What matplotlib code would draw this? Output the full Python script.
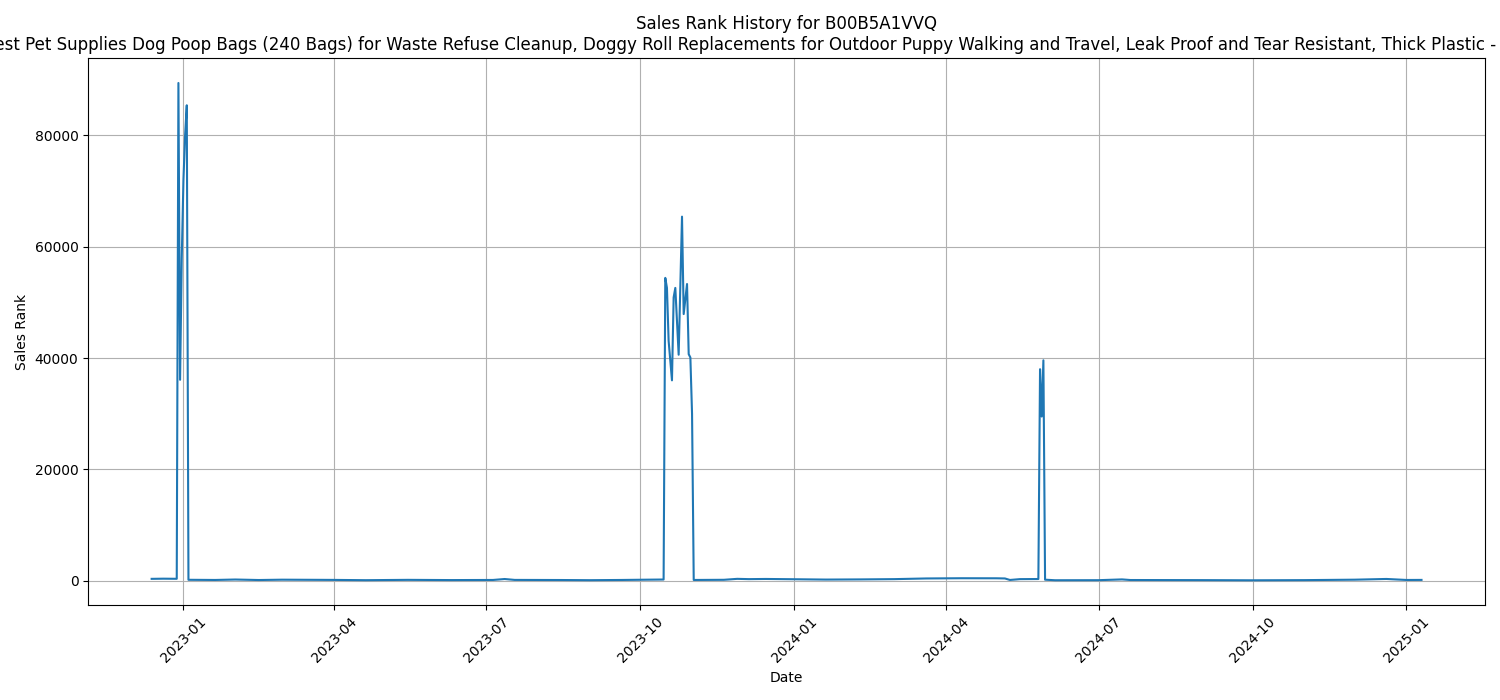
import pandas as pd
import matplotlib
matplotlib.use("Agg")
import matplotlib.pyplot as plt

asin = "B00B5A1VVQ"
product_title = ("Best Pet Supplies Dog Poop Bags (240 Bags) for Waste Refuse Cleanup, "
                 "Doggy Roll Replacements for Outdoor Puppy Walking and Travel, "
                 "Leak Proof and Tear Resistant, Thick Plastic - Unscented")

dates = [
    "2022-12-13", "2022-12-20", "2022-12-28", "2022-12-29", "2022-12-30",
    "2022-12-31", "2023-01-01", "2023-01-02", "2023-01-03", "2023-01-04",
    "2023-01-20", "2023-02-01", "2023-02-15", "2023-03-01", "2023-04-01",
    "2023-04-20", "2023-05-15", "2023-06-10", "2023-07-05", "2023-07-12",
    "2023-07-18", "2023-08-15", "2023-09-01", "2023-09-20", "2023-10-05",
    "2023-10-15", "2023-10-16", "2023-10-17", "2023-10-18", "2023-10-20",
    "2023-10-21", "2023-10-22", "2023-10-24", "2023-10-26", "2023-10-27",
    "2023-10-29", "2023-10-30", "2023-10-31", "2023-11-01", "2023-11-02",
    "2023-11-20", "2023-11-28", "2023-12-05", "2023-12-15", "2024-01-01",
    "2024-01-20", "2024-02-10", "2024-03-01", "2024-03-20", "2024-04-10",
    "2024-05-01", "2024-05-06", "2024-05-09", "2024-05-15", "2024-05-26",
    "2024-05-27", "2024-05-28", "2024-05-29", "2024-05-30", "2024-06-05",
    "2024-07-01", "2024-07-15", "2024-07-20", "2024-09-01", "2024-10-01",
    "2024-11-01", "2024-12-01", "2024-12-20", "2025-01-01", "2025-01-10",
]
sales_rank = [
    350, 380, 360, 89400, 36100,
    58000, 72000, 80000, 85400, 180,
    150, 230, 140, 200, 160,
    110, 170, 130, 150, 320,
    160, 140, 110, 150, 200,
    230, 54400, 52600, 43100, 36000,
    50900, 52600, 40600, 65400, 47900,
    53300, 40700, 40100, 30000, 150,
    180, 350, 300, 330, 280,
    220, 250, 300, 420, 460,
    450, 420, 150, 300, 320,
    38000, 29500, 39600, 200, 100,
    110, 250, 140, 120, 90,
    120, 200, 330, 150, 160,
]

df = pd.DataFrame({"date": pd.to_datetime(dates), "rank": sales_rank})

plt.figure(figsize=(15, 7))
plt.plot(df["date"], df["rank"])
plt.title(f"Sales Rank History for {asin}\n{product_title}")
plt.xlabel("Date")
plt.ylabel("Sales Rank")
plt.grid(True)
plt.xticks(rotation=45)
plt.tight_layout()
plt.savefig("out.png", dpi=100)
plt.close("all")
